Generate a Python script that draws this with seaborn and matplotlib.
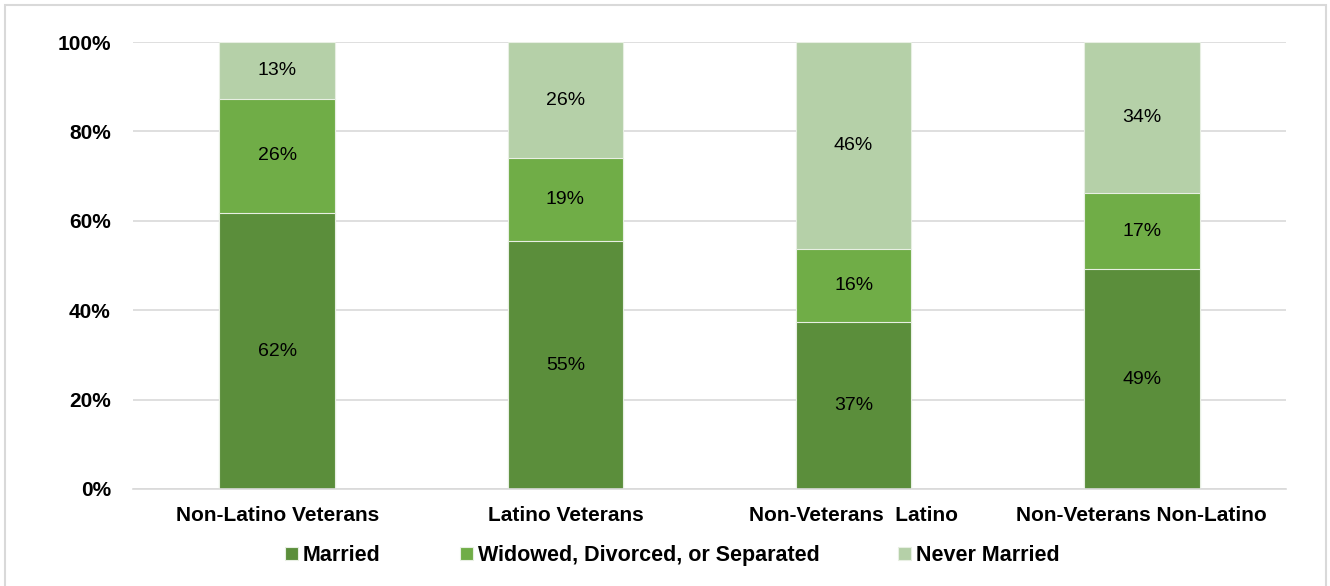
import matplotlib
matplotlib.use("Agg")
import matplotlib.pyplot as plt
from matplotlib.patches import Rectangle
import pandas as pd
import seaborn as sns

categories = ["Non-Latino Veterans", "Latino Veterans", "Non-Veterans  Latino", "Non-Veterans Non-Latino"]
series = ["Married", "Widowed, Divorced, or Separated", "Never Married"]
married = [61.7, 55.4, 37.3, 49.2]
widowed = [25.6, 18.6, 16.4, 17.0]
never_married = [12.7, 26.0, 46.3, 33.8]
colors = ["#5B8E3B", "#70AD47", "#B5D0A8"]
yticks = [0, 20, 40, 60, 80, 100]

sns.set_theme(style="white")
plt.rcParams["font.family"] = ["Liberation Sans", "DejaVu Sans"]
plt.rcParams["text.color"] = "black"
plt.rcParams["xtick.color"] = "black"
plt.rcParams["ytick.color"] = "black"

W, H = 1330, 586
fig = plt.figure(figsize=(W / 100, H / 100), dpi=100)
ax = fig.add_axes([133 / W, 1 - 489 / H, (1286 - 133) / W, (489 - 42) / H])

df = pd.DataFrame({"category": categories, "Married": married,
                   "Widowed": widowed, "Never": never_married})
df["cum1"] = df["Married"]
df["cum2"] = df["Married"] + df["Widowed"]
df["cum3"] = df["cum2"] + df["Never"]

# stacked bars: draw cumulative totals back to front
for col, color, label in [("cum3", colors[2], series[2]),
                          ("cum2", colors[1], series[1]),
                          ("cum1", colors[0], series[0])]:
    sns.barplot(data=df, x="category", y=col, color=color, width=0.4,
                edgecolor="#E8EFE3", linewidth=0.8, ax=ax, label=label,
                saturation=1, zorder=2)

# segment value labels
for i in range(len(categories)):
    bottoms = [0, married[i], married[i] + widowed[i]]
    for b, v in zip(bottoms, [married[i], widowed[i], never_married[i]]):
        ax.text(i, b + v / 2, f"{v:.0f}%", ha="center", va="center",
                fontsize=14, color="black", zorder=3)

ax.set_ylim(0, 100)
ax.set_xlim(-0.5, 3.5)
ax.set_yticks(yticks)
ax.set_yticklabels([f"{t}%" for t in yticks], fontsize=15, fontweight="bold")
ax.set_xticks(range(len(categories)))
ax.set_xticklabels(categories, fontsize=15, fontweight="bold")
ax.set_xlabel("")
ax.set_ylabel("")
ax.grid(axis="y", color="#D9D9D9", linewidth=1.2, zorder=0)
ax.set_axisbelow(True)
for s in ["top", "right", "left"]:
    ax.spines[s].set_visible(False)
ax.spines["bottom"].set_color("#D9D9D9")
ax.spines["bottom"].set_linewidth(1.2)
ax.tick_params(axis="y", length=0, pad=16)
ax.tick_params(axis="x", length=0, pad=12)

# legend: one entry per series, laid out along the bottom
handles, labels = ax.get_legend_handles_labels()
ax.legend_ = None
leg_fs = 15.5
fs_px = leg_fs * 100 / 72
legend_x = [285, 460, 898]
for name, xpx in zip(series, legend_x):
    h = handles[labels.index(name)]
    fig.legend([h], [name], loc="center left",
               bbox_to_anchor=(xpx / W, 1 - 555.5 / H), frameon=False,
               prop={"size": leg_fs, "weight": "bold"}, borderpad=0,
               borderaxespad=0, handlelength=13 / fs_px,
               handleheight=13 / fs_px, handletextpad=5 / fs_px)

fig.patches.append(Rectangle((5.5 / W, -0.02), (1326 - 5.5) / W, 1.02 - 4.5 / H,
                             transform=fig.transFigure, fill=False,
                             edgecolor="#D9D9D9", linewidth=1.5))

fig.savefig("out.png", dpi=100)
